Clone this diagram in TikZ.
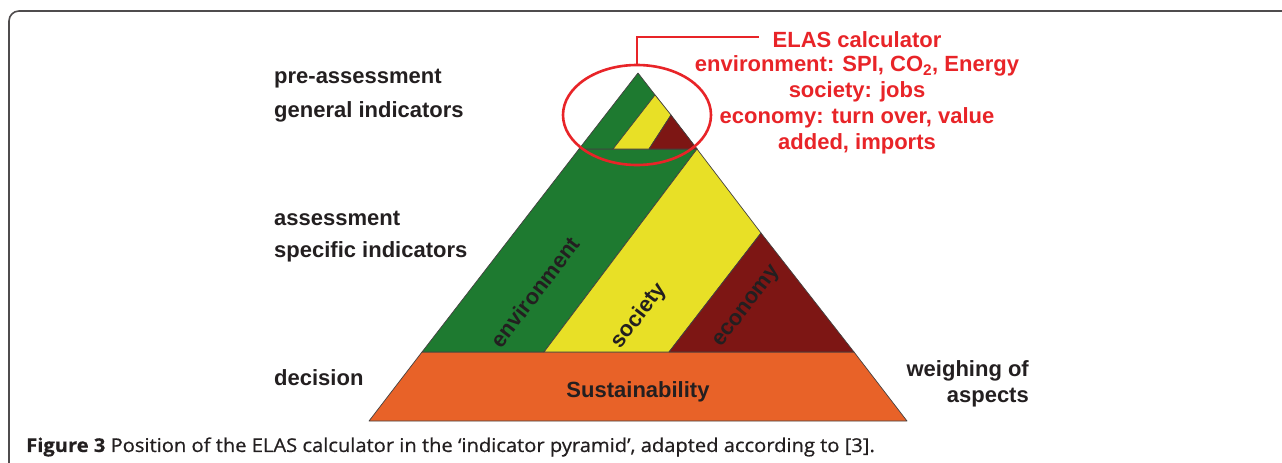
\documentclass[tikz,border=0pt]{standalone}
\usepackage{fontspec}
\setmainfont{Liberation Sans}
\newfontfamily\capfont[FakeStretch=1.06,FakeBold=0.6]{Open Sans}
\usetikzlibrary{shapes.geometric,positioning}
\definecolor{envgreen}{RGB}{30,122,48}
\definecolor{socyellow}{RGB}{232,224,38}
\definecolor{ecored}{RGB}{125,22,20}
\definecolor{susorange}{RGB}{232,98,40}
\definecolor{elasred}{RGB}{232,36,40}
\definecolor{txt}{RGB}{35,31,32}
\tikzset{
  slice/.style={draw=txt!85, line width=0.7pt, line join=round},
  env/.style={slice, fill=envgreen},
  soc/.style={slice, fill=socyellow},
  eco/.style={slice, fill=ecored},
  sus/.style={slice, fill=susorange},
  lab/.style={font=\bfseries\fontsize{22}{26}\selectfont, text=txt, inner sep=0pt},
  rotlab/.style={lab, rotate=52.5},
  redlab/.style={font=\bfseries\fontsize{22}{26}\selectfont, text=elasred, inner sep=0pt},
  ring/.style={ellipse, draw=elasred, line width=2.6pt, inner sep=0pt},
  callout/.style={draw=elasred, line width=2pt},
  frame/.style={draw=txt!80, line width=1.6pt, rounded corners=10pt}
}

\begin{document}
\begin{tikzpicture}[x=1pt,y=-1pt]
\useasboundingbox (0,0) rectangle (1282,463);

% Frame
\draw[frame] (9,463) -- (9,11) -- (1282,11);

% Bottom layer
\draw[sus] (422,352) -- (854,352) -- (907,421) -- (369,421) -- cycle;
\node[lab] (sust) at (638,392) {Sustainability};

% Middle layer
\draw[env] (579,149) -- (697,149) -- (544,352) -- (422,352) -- cycle;
\draw[soc] (697,149) -- (761,233) -- (669,352) -- (544,352) -- cycle;
\draw[eco] (761,233) -- (854,352) -- (669,352) -- cycle;
\node[rotlab] (env) at (535,292) {environment};
\node[rotlab] (soc) at (639,316) {society};
\node[rotlab] (eco) at (748,307) {economy};

% Top layer
\draw[env] (638,73) -- (697,149) -- (579,149) -- cycle;
\draw[soc] (655,95) -- (671,115) -- (649,149) -- (613,149) -- cycle;
\draw[eco] (671,115) -- (697,149) -- (649,149) -- cycle;

% Levels
\node[lab, anchor=west] (pre) at (274,79) {pre-assessment};
\node[lab, anchor=west] (gen) at (274,112) {general indicators};
\node[lab, anchor=west] (ass) at (274,218) {assessment};
\node[lab, anchor=west] (spec) at (274,252) {specific indicators};
\node[lab, anchor=west] (dec) at (274,378) {decision};
\node[lab, anchor=east] (weigh) at (1029,371) {weighing of};
\node[lab, anchor=east] (asp) at (1029,398) {aspects};

% ELAS calculator
\node[ring, minimum width=148pt, minimum height=100pt] (ring) at (637,115) {};
\node[redlab] (elas) at (857,40) {ELAS calculator};
\node[redlab] (elasenv) at (857,66) {environment: SPI, CO\textsubscript{2}, Energy};
\node[redlab] (elassoc) at (857,92) {society: jobs};
\node[redlab] (elaseco) at (857,118) {economy: turn over, value};
\node[redlab] (elasadd) at (857,144) {added, imports};
\coordinate (elasin) at ([xshift=-13pt,yshift=3pt]elas.west);
\draw[callout] (ring.north) |- (elasin);

% Caption
\node[anchor=west, inner sep=0pt, text=txt, font=\capfont\fontsize{19}{21}\selectfont] (caption) at (26,447)
  {\textbf{Figure 3} Position of the ELAS calculator in the ‘indicator pyramid’, adapted according to [3].};
\end{tikzpicture}
\end{document}
